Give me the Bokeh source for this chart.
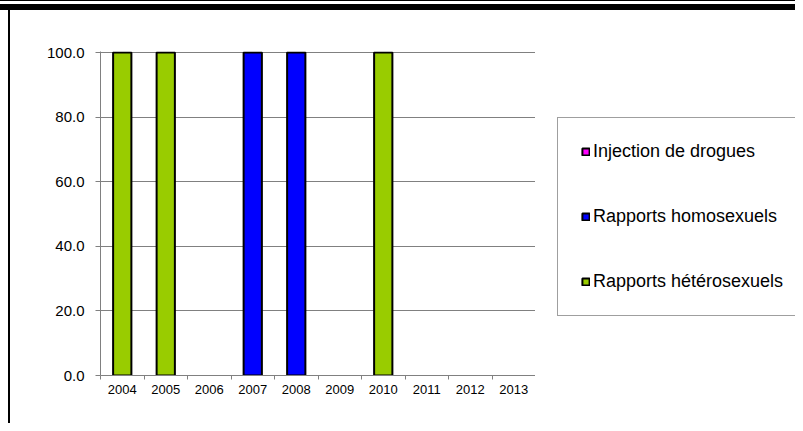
from bokeh.plotting import figure
from bokeh.layouts import row
from bokeh.models import (ColumnDataSource, FixedTicker, NumeralTickFormatter,
                          Range1d, Legend, LegendItem)
from bokeh.embed import file_html
from bokeh.resources import INLINE

years = ["2004", "2005", "2006", "2007", "2008", "2009", "2010", "2011", "2012", "2013"]
injection = [0, 0, 0, 0, 0, 0, 0, 0, 0, 0]
homosexuels = [0, 0, 0, 100, 100, 0, 0, 0, 0, 0]
heterosexuels = [100, 100, 0, 0, 0, 0, 100, 0, 0, 0]
y_ticks = [0, 20, 40, 60, 80, 100]

series = [
    ("Injection de drogues", injection, "#FF00FF"),
    ("Rapports homosexuels", homosexuels, "#0000FF"),
    ("Rapports hétérosexuels", heterosexuels, "#99CC00"),
]

FONT = "Liberation Sans"
TOP_LINES = ("linear-gradient(to bottom, #000 0px, #000 1px, #fff 1px, #fff 4px, "
             "#000 4px, #000 10px, transparent 10px)")
LEFT_LINE = "linear-gradient(to right, #fff 0px, #fff 8px, #000 8px, #000 10px, #fff 10px)"

p = figure(width=535, height=423, output_backend="svg", toolbar_location=None,
           x_range=Range1d(0, len(years)), y_range=Range1d(0, 100.31),
           min_border_left=100, min_border_top=51, min_border_right=0,
           min_border_bottom=48)
p.outline_line_color = None
p.background_fill_color = "white"
p.border_fill_alpha = 0
p.styles = {"background": TOP_LINES + ", " + LEFT_LINE}

centers = [i + 0.5 for i in range(len(years))]
bottom = [0.0] * len(years)
for name, vals, color in series:
    xs, bs, ts = [], [], []
    for i, v in enumerate(vals):
        if v > 0:
            xs.append(centers[i])
            bs.append(bottom[i])
            ts.append(bottom[i] + v)
        bottom[i] += v
    src = ColumnDataSource(dict(x=xs, bottom=bs, top=ts))
    p.vbar(x="x", bottom="bottom", top="top", width=0.42, source=src,
           fill_color=color, line_color="black", line_width=2)

# axes
xa = p.xaxis[0]
xa.ticker = FixedTicker(ticks=centers, minor_ticks=list(range(len(years) + 1)))
xa.major_label_overrides = {c: y for c, y in zip(centers, years)}
xa.major_tick_out = 0
xa.major_tick_in = 0
xa.minor_tick_out = 4
xa.minor_tick_in = 0
xa.axis_line_color = "#808080"
xa.minor_tick_line_color = "#808080"
xa.major_label_text_font = FONT
xa.major_label_text_font_size = "13px"
xa.major_label_text_color = "black"
xa.major_label_standoff = 5

ya = p.yaxis[0]
ya.ticker = FixedTicker(ticks=y_ticks)
ya.formatter = NumeralTickFormatter(format="0.0")
ya.major_tick_out = 5
ya.major_tick_in = 0
ya.minor_tick_line_color = None
ya.axis_line_color = "#808080"
ya.major_tick_line_color = "#808080"
ya.major_label_text_font = FONT
ya.major_label_text_font_size = "15px"
ya.major_label_text_color = "black"
ya.major_label_standoff = 11

p.xgrid.grid_line_color = None
p.ygrid.ticker = FixedTicker(ticks=y_ticks[1:])
p.ygrid.grid_line_color = "black"
p.ygrid.grid_line_dash = "1 1"
p.ygrid.grid_line_width = 1

# legend panel (separate figure so the legend can sit outside the plot frame);
# its proxy bars sit behind the opaque legend box and only lend their style to it
p2 = figure(width=260, height=423, output_backend="svg", toolbar_location=None,
            x_range=Range1d(-1, 11), y_range=Range1d(-43, 147),
            x_axis_type=None, y_axis_type=None,
            min_border_left=0, min_border_right=0, min_border_top=0, min_border_bottom=0)
p2.outline_line_color = None
p2.grid.grid_line_color = None
p2.background_fill_alpha = 0
p2.border_fill_alpha = 0
p2.styles = {"background": TOP_LINES + ", #fff"}

items = []
for name, vals, color in series:
    src = ColumnDataSource(dict(x=centers, top=vals))
    r = p2.vbar(x="x", top="top", width=0.42, source=src,
                fill_color=color, line_color="black", line_width=2)
    items.append(LegendItem(label=name, renderers=[r]))

legend = Legend(items=items, location=(22, 59))
legend.label_text_font = FONT
legend.label_text_font_size = "18px"
legend.label_text_color = "black"
legend.glyph_width = 9
legend.glyph_height = 9
legend.label_height = 18
legend.label_standoff = 3
legend.spacing = 44
legend.padding = 23
legend.margin = 0
legend.border_line_color = "#404040"
legend.border_line_width = 1
legend.background_fill_color = "white"
legend.background_fill_alpha = 1
p2.add_layout(legend, "center")

layout = row(p, p2, spacing=0)
open("out.html", "w").write(file_html(layout, INLINE))
